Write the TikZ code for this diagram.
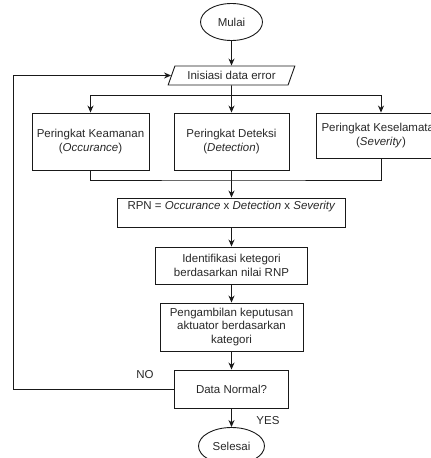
\documentclass[tikz,border=0pt]{standalone}
\usepackage{fontspec}
\setmainfont{Liberation Sans}
\usepackage{tikz}
\usetikzlibrary{arrows.meta}
\usetikzlibrary{positioning,shapes.geometric,calc}
\definecolor{linegray}{RGB}{25,25,25}
\definecolor{textgray}{RGB}{40,40,40}

\begin{document}
\begin{tikzpicture}[x=1pt,y=-1pt,
        every node/.style={font=\fontsize{11.5}{13.7}\selectfont,text=textgray},
        flowline/.style={draw=linegray,line width=0.9pt},
        flowarrow/.style={flowline,-{Stealth[length=7pt,width=6pt]}},
        procbox/.style={draw=linegray,line width=0.9pt,rectangle,align=center,inner sep=0pt},
        termbox/.style={draw=linegray,line width=0.9pt,ellipse,inner sep=0pt},
        iobox/.style={draw=linegray,line width=0.9pt,trapezium,trapezium stretches=true,
          trapezium left angle=58,trapezium right angle=122,inner sep=0pt}]
        \useasboundingbox (0,0) rectangle (431,458);
        \clip (0,0) rectangle (431,458);
        % terminals and steps
        \node[termbox,minimum width=62pt,minimum height=37pt] (mulai) at (231.5,22) {Mulai};
        \node[iobox,minimum width=127pt,minimum height=19pt] (init) at (231.5,75.5) {Inisiasi data error};
        \node[procbox,minimum width=117pt,minimum height=57pt] (occ) at (90.5,141.5)
          {Peringkat Keamanan\\(\textit{Occurance})};
        \node[procbox,minimum width=115pt,minimum height=57pt] (det) at (231.5,141.5)
          {Peringkat Deteksi\\(\textit{Detection})};
        \node[procbox,minimum width=130pt,minimum height=45pt] (sev) at (381,135.5)
          {Peringkat Keselamatan\\(\textit{Severity})};
        \node[procbox,minimum width=228pt,minimum height=29pt] (rpn) at (231.5,212.5)
          {RPN = \textit{Occurance} x \textit{Detection} x \textit{Severity}\\~};
        \node[procbox,minimum width=152pt,minimum height=37pt] (ide) at (231.5,265.5)
          {Identifikasi ketegori\\berdasarkan nilai RNP};
        \node[procbox,minimum width=143pt,minimum height=48pt] (kep) at (231.5,327)
          {Pengambilan keputusan\\aktuator berdasarkan\\kategori};
        \node[procbox,minimum width=114pt,minimum height=38pt] (cek) at (231.5,389) {Data Normal?};
        \node[termbox,minimum width=66pt,minimum height=37pt] (selesai) at (231.5,446) {Selesai};
        \node (no) at (145,375) {NO};
        \node (yes) at (268,421) {YES};
        % connectors
        \coordinate (split) at (231.5,95);
        \coordinate (merge) at (231.5,180);
        \coordinate (back) at (13,0);
        \draw[flowarrow] (mulai) -- (init);
        \draw[flowarrow] (init) -- (det);
        \draw[flowarrow] (split) -| (occ.north);
        \draw[flowarrow] (split) -| (sev.north);
        \draw[flowline] (occ.south) |- (merge) -| (sev.south);
        \draw[flowarrow] (det) -- (rpn);
        \draw[flowarrow] (rpn) -- (ide);
        \draw[flowarrow] (ide) -- (kep);
        \draw[flowarrow] (kep) -- (cek);
        \draw[flowarrow] (cek) -- (selesai);
        \draw[flowarrow] (cek.west) -- (cek.west -| back) |- (init.west);
      \end{tikzpicture}
\end{document}
